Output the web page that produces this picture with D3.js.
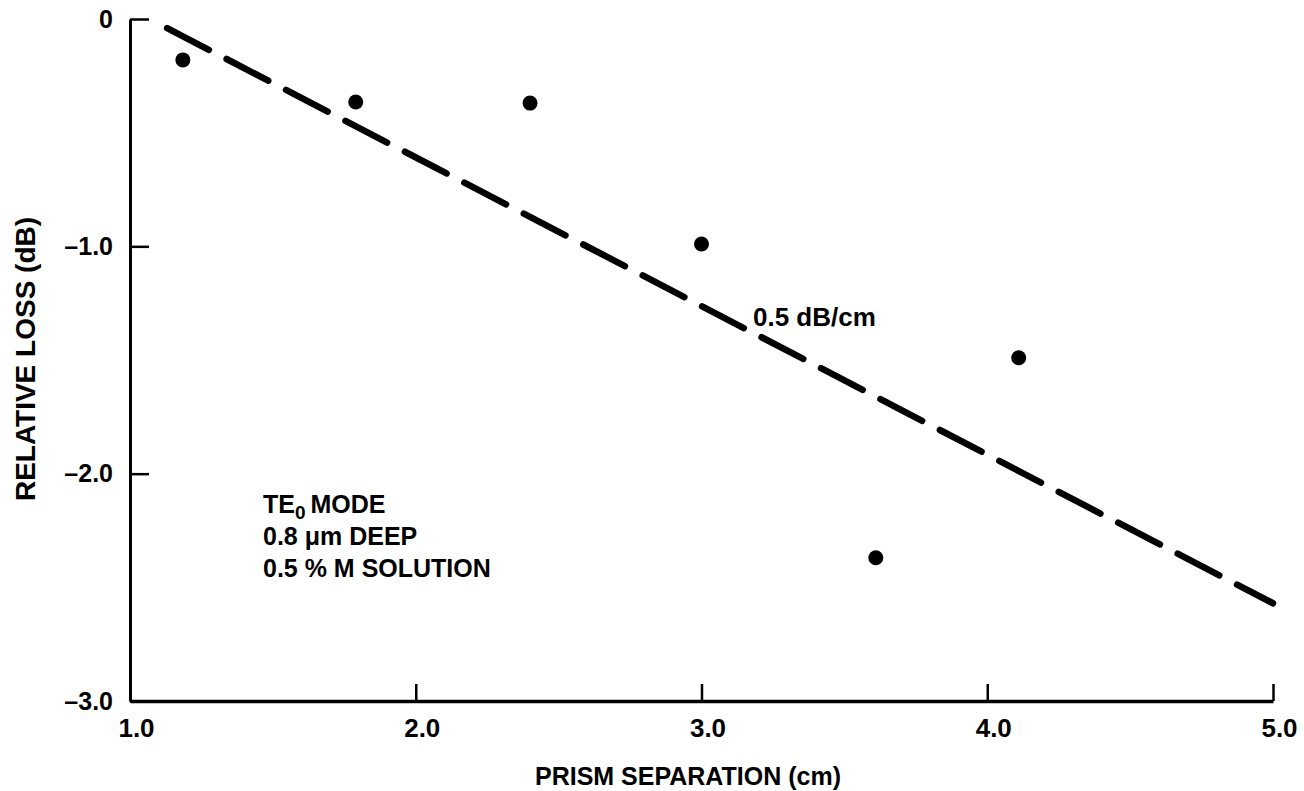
<!DOCTYPE html>
<html>
  <head>
    <title>relative loss vs prism separation</title>
    <script type="text/javascript" src="https://d3js.org/d3.v7.min.js"></script>
    <style>
      body { margin: 0; background: #fff; }
      text { font-family: "Liberation Sans", Arial, sans-serif; font-weight: bold; fill: #000; }
    </style>
  </head>
  <body>
    <svg width="1304" height="791"></svg>
    <script>
    	// measured points
    	var separation = [1.185, 1.79, 2.40, 3.0, 3.61, 4.11];
    	var loss = [-0.18, -0.365, -0.37, -0.99, -2.37, -1.49];
    	// dashed fit line, end points
    	var fitX = [1.13, 5.0];
    	var fitY = [-0.04, -2.57];
    	var xTicks = [1, 2, 3, 4, 5];
    	var xTickLabels = ["1.0", "2.0", "3.0", "4.0", "5.0"];
    	var yTicks = [0, -1, -2, -3];
    	var yTickLabels = ["0", "\u20131.0", "\u20132.0", "\u20133.0"];
    	var notes = ["MODE", "0.8 \u03bcm DEEP", "0.5 % M SOLUTION"];

    	var svg = d3.select("svg");
    	var x = d3.scaleLinear().domain([1, 5]).range([130, 1273]);
    	var y = d3.scaleLinear().domain([-3, 0]).range([701, 19]);

    	// y axis, ticks pointing inward
    	var yAxis = d3.axisLeft(y)
    		.tickValues(yTicks)
    		.tickFormat(function(d, i){ return yTickLabels[i]; })
    		.tickSizeInner(-19)
    		.tickSizeOuter(0)
    		.tickPadding(17);
    	var gy = svg.append("g")
    		.attr("transform", "translate(" + x(1) + ",0)")
    		.call(yAxis);
    	gy.select(".domain").attr("stroke-width", 3);
    	gy.selectAll(".tick line").attr("stroke-width", 2.5);
    	gy.selectAll(".tick text").style("font-size", "25px");

    	// x axis
    	var xAxis = d3.axisBottom(x)
    		.tickValues(xTicks)
    		.tickFormat(function(d, i){ return xTickLabels[i]; })
    		.tickSizeInner(-17)
    		.tickSizeOuter(0)
    		.tickPadding(18);
    	var gx = svg.append("g")
    		.attr("transform", "translate(0," + y(-3) + ")")
    		.call(xAxis);
    	gx.select(".domain").attr("stroke-width", 3.5);
    	gx.selectAll(".tick line").attr("stroke-width", 2.5);
    	gx.selectAll(".tick text")
    		.style("font-size", "26px")
    		.attr("dx", 6);
    	gx.selectAll(".tick").filter(function(d){ return d == 1; }).select("line").remove();
    	svg.selectAll("g").attr("font-family", null).attr("font-size", null);

    	// dashed line
    	var line = d3.line()
    		.x(function(d){ return x(d[0]); })
    		.y(function(d){ return y(d[1]); });
    	svg.append("path")
    		.datum(d3.zip(fitX, fitY))
    		.attr("d", line)
    		.attr("fill", "none")
    		.attr("stroke", "#000")
    		.attr("stroke-width", 6.5)
    		.attr("stroke-linecap", "round")
    		.attr("stroke-dasharray", "47 20");

    	// data points
    	svg.selectAll(".pt")
    		.data(d3.zip(separation, loss))
    		.enter()
    		.append("circle")
    		.attr("cx", function(d){ return x(d[0]); })
    		.attr("cy", function(d){ return y(d[1]); })
    		.attr("r", 7.5)
    		.attr("fill", "#000");

    	// annotations
    	svg.append("text")
    		.attr("x", 753).attr("y", 326)
    		.style("font-size", "26px")
    		.text("0.5 dB/cm");

    	var te = svg.append("text")
    		.attr("x", 263).attr("y", 513)
    		.style("font-size", "25px");
    	te.append("tspan").text("TE");
    	te.append("tspan").attr("dy", 6).style("font-size", "19px").text("0");
    	te.append("tspan").attr("dy", -6).attr("dx", 5).text(notes[0]);
    	svg.selectAll(".note")
    		.data(notes.slice(1))
    		.enter()
    		.append("text")
    		.attr("x", 263)
    		.attr("y", function(d, i){ return 545 + i * 32; })
    		.style("font-size", "25px")
    		.text(function(d){ return d; });

    	// axis titles
    	svg.append("text")
    		.attr("x", 688).attr("y", 785)
    		.attr("text-anchor", "middle")
    		.style("font-size", "25px")
    		.text("PRISM SEPARATION (cm)");
    	svg.append("text")
    		.attr("transform", "translate(35,359) rotate(-90)")
    		.attr("text-anchor", "middle")
    		.style("font-size", "28px")
    		.text("RELATIVE LOSS (dB)");
    </script>
  </body>
</html>
